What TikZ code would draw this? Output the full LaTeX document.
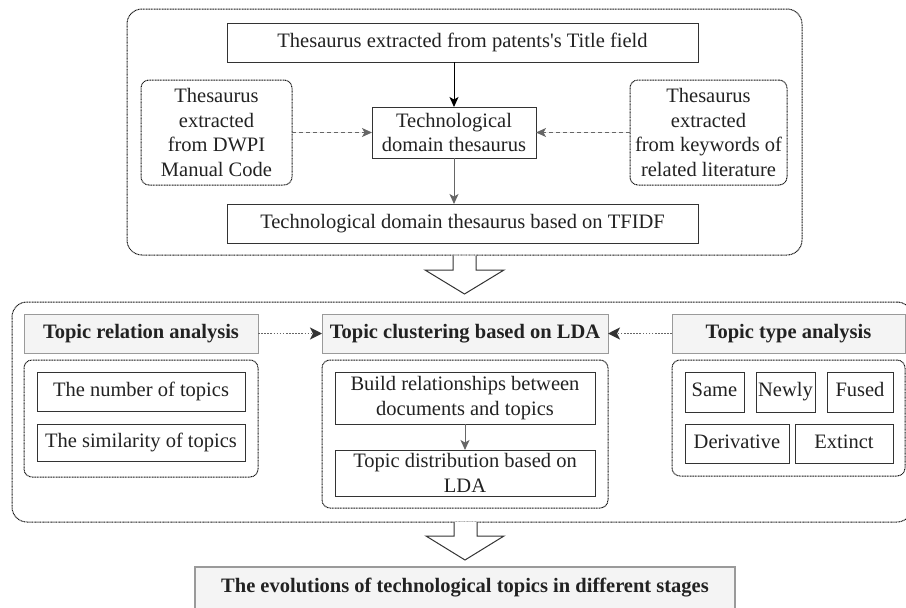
\documentclass[tikz,border=0pt]{standalone}
\usepackage{fontspec}
\setmainfont{Liberation Serif}[Ligatures=TeXOff]
\usetikzlibrary{arrows.meta}
\definecolor{hdrfill}{HTML}{F4F4F4}
\definecolor{hdrline}{HTML}{9A9A9A}
\definecolor{arrgray}{HTML}{666666}
\definecolor{txt}{HTML}{222222}
\begin{document}
\begin{tikzpicture}[x=1pt,y=-1pt,
  every node/.style={font=\fontsize{20.5}{24.6}\selectfont, text=txt, inner sep=0pt, outer sep=0pt, align=center},
  wh/.style 2 args={minimum width=#1, minimum height=#2},
  box/.style={draw=black!80, line width=1pt, fill=white},
  group/.style={draw=black!90, line width=1pt, dash pattern=on 1pt off 0.6pt, rounded corners=#1},
  header/.style={draw=hdrline, line width=1pt, fill=hdrfill, font=\fontsize{20.5}{24.6}\selectfont\bfseries},
  solidarr/.style={-{Stealth[length=10pt,width=9pt,inset=2.5pt]}, line width=1pt},
  grayarr/.style={-{Stealth[length=10pt,width=9pt,inset=2.5pt]}, line width=1pt, draw=arrgray, fill=arrgray},
  dasharr/.style={grayarr, dash pattern=on 4pt off 3pt},
  dotarr/.style={-{Stealth[length=12pt,width=12pt,inset=3pt,fill=black!80,color=black!80]}, draw=arrgray, line width=1.6pt, dash pattern=on 1.6pt off 1.5pt},
  hollow/.style={draw=black!80, line width=1pt, fill=white, line join=miter}
]
\clip (0,0) rectangle (906,608);

% ---------- top group ----------
\node[group=15pt, wh={675}{246}] (topgrp) at (464.5,132) {};
\node[box, wh={471}{39}] (title) at (462.5,42.5) {Thesaurus extracted from patents's Title field};
\node[group=8pt, wh={151}{105}] (dwpi) at (216.5,132.5) {Thesaurus\\extracted\\from DWPI\\Manual Code};
\node[box, wh={164}{51}] (tech) at (454,132.5) {Technological\\domain thesaurus};
\node[group=8pt, wh={157}{105}] (lit) at (708.5,132.5) {Thesaurus\\extracted\\from keywords of\\related literature};
\node[box, wh={471}{39}] (tfidf) at (462.5,223.5) {Technological domain thesaurus based on TFIDF};

\draw[solidarr] (title.south -| tech.north) -- (tech.north);
\draw[grayarr] (tech.south) -- (tech.south |- tfidf.north);
\draw[dasharr] (dwpi.east) -- (tech.west);
\draw[dasharr] (lit.west) -- (tech.east);

% ---------- first hollow arrow ----------
\draw[hollow] (453,255.5) -- (453,270) -- (425,270) -- (464.5,294) -- (504,270) -- (476,270) -- (476,255.5);

% ---------- middle group ----------
\node[group=15pt, wh={900}{220}] (midgrp) at (462,412) {};

\node[header, wh={234}{39}] (rel) at (141,333.5) {Topic relation analysis};
\node[group=8pt, wh={234}{117}] (relgrp) at (141,418.5) {};
\node[box, wh={208}{39}] (num) at (141,391.5) {The number of topics};
\node[box, wh={208}{37}] (sim) at (141,442.5) {The similarity of topics};

\node[header, wh={286}{39}] (clu) at (465,333.5) {Topic clustering based on LDA};
\node[group=8pt, wh={286}{148}] (clugrp) at (465,434) {};
\node[box, wh={260}{52}] (build) at (465,398) {Build relationships between\\documents and topics};
\node[box, wh={260}{46}] (dist) at (465,473) {Topic distribution based on\\LDA};
\draw[grayarr] (build.south) -- (dist.north);

\node[header, wh={233}{39}] (typ) at (788.5,333.5) {Topic type analysis};
\node[group=8pt, wh={233}{116}] (typgrp) at (788.5,418) {};
\node[box, wh={59}{40}] (same) at (714.5,392) {\strut Same};
\node[box, wh={59}{40}] (newly) at (785.5,392) {\strut Newly};
\node[box, wh={66}{40}] (fused) at (860,392) {\strut Fused};
\node[box, wh={104}{39}] (deriv) at (737,443.5) {\strut Derivative};
\node[box, wh={98}{39}] (extinct) at (844,443.5) {\strut Extinct};

\draw[dotarr] (rel.east) -- (clu.west);
\draw[dotarr] (typ.west) -- (clu.east);

% ---------- second hollow arrow ----------
\draw[hollow] (454,522) -- (454,536) -- (426,536) -- (465,560) -- (504,536) -- (477,536) -- (477,522);

% ---------- result ----------
\node[draw=hdrline, line width=1.5pt, fill=hdrfill, wh={540}{52}, font=\fontsize{20.5}{24.6}\selectfont\bfseries] (evo) at (465,593) {};
\node at (465,588) {\bfseries The evolutions of technological topics in different stages};
\end{tikzpicture}
\end{document}
